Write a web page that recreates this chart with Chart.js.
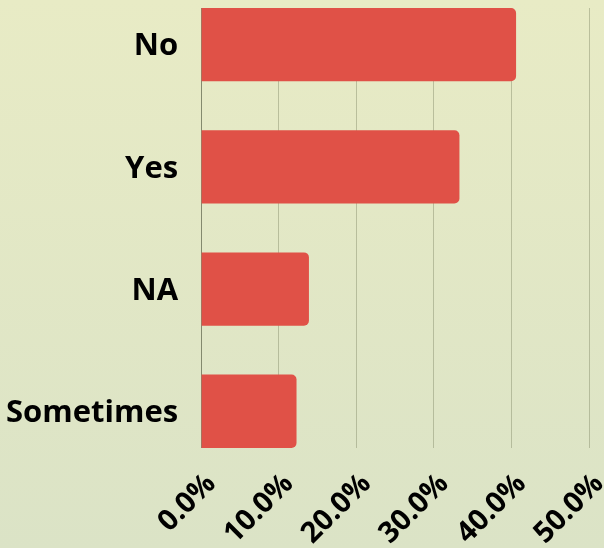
<!DOCTYPE html>
<html>
<head>
<meta charset="utf-8">
<title>Responses</title>
<script src="https://cdn.jsdelivr.net/npm/chart.js@4.4.1/dist/chart.umd.min.js"></script>
<style>
    html, body {
        margin: 0;
        padding: 0;
    }
    body {
        width: 604px;
        height: 548px;
        background: linear-gradient(to bottom, #e8ebc5, #dbe3c6);
    }
    .chart-box {
        position: relative;
        width: 604px;
        height: 548px;
    }
</style>
</head>
<body>
<div class="chart-box">
    <canvas id="answersChart"></canvas>
</div>
<script>
// Answer categories, top to bottom
const categories = ['No', 'Yes', 'NA', 'Sometimes'];
// Share of responses, in percent
const shares = [40.6, 33.3, 13.9, 12.3];
// Percent ticks on the value axis
const percentTicks = [0, 10, 20, 30, 40, 50];

const barColor = '#e05147';
const gridColor = 'rgba(130, 138, 105, 0.45)';

Chart.defaults.font.family = "'Open Sans', sans-serif";
Chart.defaults.color = '#000';

document.addEventListener('DOMContentLoaded', function() {
    const ctx = document.getElementById('answersChart').getContext('2d');

    // Each bar sits at its category index on a numeric y scale
    const points = shares.map((value, i) => ({ x: value, y: i }));

    new Chart(ctx, {
        type: 'bar',
        data: {
            datasets: [{
                data: points,
                backgroundColor: barColor,
                borderWidth: 0,
                borderRadius: 5,
                borderSkipped: 'start',
                categoryPercentage: 1,
                barPercentage: 0.6
            }]
        },
        options: {
            indexAxis: 'y',
            responsive: true,
            maintainAspectRatio: false,
            animation: false,
            layout: {
                // the rotated labels may run off the bottom edge a little
                padding: { top: 8, right: 15, left: 0, bottom: -22 }
            },
            plugins: {
                legend: { display: false },
                tooltip: { enabled: false }
            },
            scales: {
                x: {
                    type: 'linear',
                    min: percentTicks[0],
                    max: percentTicks[percentTicks.length - 1],
                    afterBuildTicks: function(scale) {
                        scale.ticks = percentTicks.map(v => ({ value: v }));
                    },
                    grid: {
                        color: gridColor,
                        drawTicks: false
                    },
                    border: { display: false },
                    ticks: {
                        minRotation: 45,
                        maxRotation: 45,
                        padding: 19,
                        labelOffset: 10,
                        font: { size: 29, weight: 'bold' },
                        callback: function(value) {
                            return value.toFixed(1) + '%';
                        }
                    },
                    afterFit: function(scale) {
                        scale.paddingRight = 0;
                    }
                },
                y: {
                    type: 'linear',
                    reverse: true,
                    offset: false,
                    min: -0.3,
                    max: categories.length - 0.7,
                    grid: { display: false, offset: false, drawTicks: true, tickLength: 17 },
                    border: { display: true, color: 'rgba(110, 115, 90, 0.7)', width: 1 },
                    ticks: {
                        stepSize: 1,
                        includeBounds: false,
                        padding: 6,
                        labelOffset: 2,
                        font: { size: 31, weight: 'bold' },
                        callback: function(value) {
                            return categories[value] ?? '';
                        }
                    },
                    afterFit: function(scale) {
                        // labels never touch the ends of the axis
                        scale.paddingTop = 0;
                        scale.paddingBottom = 0;
                    }
                }
            }
        }
    });
});
</script>
</body>
</html>
